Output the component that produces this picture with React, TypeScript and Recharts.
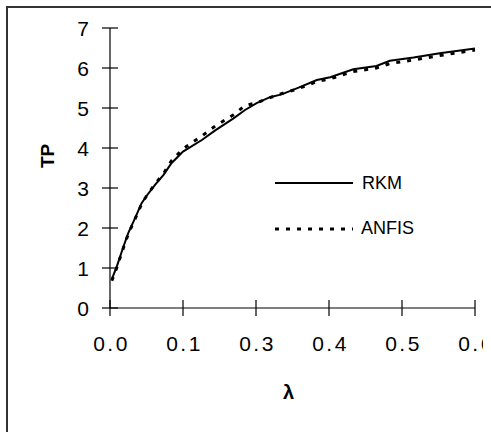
import React from "react";
import { LineChart, Line, XAxis, YAxis } from "recharts";

const lambdaValues = [0.003, 0.011, 0.022, 0.03, 0.041, 0.052, 0.06, 0.074, 0.088, 0.101, 0.12, 0.151, 0.173, 0.203, 0.222, 0.241, 0.263, 0.282, 0.307, 0.34, 0.362, 0.4, 0.438, 0.46, 0.499, 0.542, 0.6];
const rkmValues = [0.72, 1.03, 1.53, 1.87, 2.24, 2.62, 2.8, 3.08, 3.33, 3.62, 3.91, 4.2, 4.44, 4.74, 4.95, 5.12, 5.27, 5.34, 5.49, 5.7, 5.77, 5.97, 6.05, 6.18, 6.26, 6.37, 6.49];
const anfisValues = [0.68, 1.0, 1.5, 1.85, 2.22, 2.6, 2.8, 3.1, 3.36, 3.68, 3.98, 4.3, 4.55, 4.83, 5.06, 5.13, 5.26, 5.36, 5.47, 5.66, 5.73, 5.91, 6.0, 6.11, 6.2, 6.31, 6.45];

const xTicks = [0, 0.12, 0.24, 0.36, 0.48, 0.6];
const xTickLabels = ["0.0", "0.1", "0.3", "0.4", "0.5", "0.6"];
const yTicks = [0, 1, 2, 3, 4, 5, 6, 7];
const seriesNames = ["RKM", "ANFIS"];

const data = lambdaValues.map((x, i) => ({ x, RKM: rkmValues[i], ANFIS: anfisValues[i] }));

const FONT = "'Liberation Sans', Arial, sans-serif";

const YTick = (props: any) => {
  const { x, y, payload } = props;
  return (
    <g>
      <line x1={x - 8} x2={x + 8} y1={y} y2={y} stroke="#000" strokeWidth={1.2} />
      <text x={x - 21} y={y} textAnchor="end" dominantBaseline="central" fontSize={21} fontFamily={FONT} fill="#000">
        {payload.value}
      </text>
    </g>
  );
};

const XTick = (props: any) => {
  const { x, y, index } = props;
  return (
    <g>
      <line x1={x} x2={x} y1={y - 8} y2={y + 8} stroke="#000" strokeWidth={1.2} />
      <text x={x + 1.5} y={y + 35} textAnchor="middle" dominantBaseline="central" fontSize={21} letterSpacing={2.5} fontFamily={FONT} fill="#000">
        {xTickLabels[index]}
      </text>
    </g>
  );
};

export default function App() {
  return (
    <div style={{ position: "relative", width: 483, height: 424 }}>
      <div
        style={{
          position: "fixed",
          left: 6,
          top: 6,
          width: 483,
          height: 424,
          borderLeft: "2px solid #333",
          borderTop: "2px solid #333",
          pointerEvents: "none",
          zIndex: 5,
        }}
      />
      <div style={{ position: "absolute", left: 0, top: 0 }}>
        <LineChart width={483} height={424} data={data} margin={{ top: 20, right: 16, bottom: 0, left: 0 }}>
          <XAxis
            dataKey="x"
            type="number"
            domain={[0, 0.6]}
            ticks={xTicks}
            interval={0}
            height={124}
            tickSize={0}
            tickMargin={0}
            tickLine={false}
            axisLine={{ stroke: "#000", strokeWidth: 1.2 }}
            tick={<XTick />}
            label={{ value: "λ", position: "insideTop", dy: 72, dx: -4, fontSize: 20, fontWeight: "bold", fontFamily: FONT, fill: "#000" }}
          />
          <YAxis
            type="number"
            domain={[0, 7]}
            ticks={yTicks}
            interval={0}
            width={102}
            tickSize={0}
            tickMargin={0}
            tickLine={false}
            axisLine={{ stroke: "#000", strokeWidth: 1.2 }}
            tick={<YTick />}
            label={{ value: "TP", angle: -90, position: "insideLeft", dx: 34, dy: 0, fontSize: 19, fontWeight: "bold", fontFamily: FONT, fill: "#000" }}
          />
          <Line
            type="linear"
            dataKey="ANFIS"
            stroke="#000"
            strokeWidth={3}
            strokeDasharray="4 7"
            dot={false}
            isAnimationActive={false}
          />
          <Line
            type="linear"
            dataKey="RKM"
            stroke="#000"
            strokeWidth={2}
            dot={false}
            isAnimationActive={false}
          />
        </LineChart>
      </div>
      <svg width={200} height={80} style={{ position: "absolute", left: 260, top: 160, overflow: "visible" }}>
        <line x1={7} x2={85} y1={15} y2={15} stroke="#000" strokeWidth={2} />
        <text x={94} y={15} dominantBaseline="central" fontSize={18} fontFamily={FONT} fill="#000">{seriesNames[0]}</text>
        <line x1={7} x2={85} y1={61} y2={61} stroke="#000" strokeWidth={3} strokeDasharray="4 7" />
        <text x={93} y={60} dominantBaseline="central" fontSize={18} fontFamily={FONT} fill="#000">{seriesNames[1]}</text>
      </svg>
    </div>
  );
}
